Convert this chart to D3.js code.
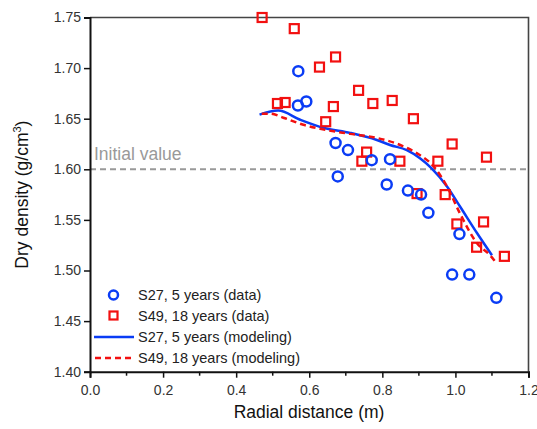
<!DOCTYPE html>
<html>
<head>
<meta charset="utf-8">
<script src="https://cdn.jsdelivr.net/npm/d3@7"></script>
<style>
  body { margin: 0; background: #fff; }
  svg { display: block; font-family: "Liberation Sans", Arial, sans-serif; }
</style>
</head>
<body>
<div id="chart"></div>
<script>
// data
const s27DataX = [0.570, 0.569, 0.592, 0.672, 0.706, 0.678, 0.771, 0.821, 0.812, 0.870, 0.906, 0.926, 1.011, 0.991, 1.038, 1.112];
const s27DataY = [1.697, 1.663, 1.667, 1.626, 1.619, 1.593, 1.609, 1.610, 1.585, 1.579, 1.575, 1.557, 1.536, 1.496, 1.496, 1.473];

const s49DataX = [0.471, 0.559, 0.628, 0.672, 0.513, 0.534, 0.666, 0.735, 0.774, 0.827, 0.645, 0.885, 0.991, 0.757, 0.744, 0.848, 0.952, 1.085, 0.895, 0.972, 1.004, 1.077, 1.058, 1.134];
const s49DataY = [1.750, 1.739, 1.701, 1.711, 1.665, 1.666, 1.662, 1.678, 1.665, 1.668, 1.647, 1.650, 1.625, 1.617, 1.608, 1.608, 1.608, 1.612, 1.576, 1.575, 1.546, 1.548, 1.523, 1.514];

const s27ModelX = [0.464, 0.515, 0.575, 0.639, 0.712, 0.785, 0.821, 0.867, 0.903, 0.935, 0.977, 1.013, 1.059, 1.100];
const s27ModelY = [1.654, 1.658, 1.649, 1.641, 1.636, 1.629, 1.624, 1.619, 1.611, 1.601, 1.583, 1.563, 1.537, 1.515];

const s49ModelX = [0.470, 0.493, 0.529, 0.584, 0.630, 0.712, 0.785, 0.849, 0.894, 0.940, 0.977, 1.013, 1.059, 1.095, 1.113];
const s49ModelY = [1.655, 1.655, 1.651, 1.644, 1.640, 1.635, 1.631, 1.624, 1.616, 1.603, 1.583, 1.556, 1.527, 1.515, 1.507];

const xTicks = [0.0, 0.2, 0.4, 0.6, 0.8, 1.0, 1.2];
const xMinorTicks = [0.1, 0.3, 0.5, 0.7, 0.9, 1.1];
const yTicks = [1.40, 1.45, 1.50, 1.55, 1.60, 1.65, 1.70, 1.75];
const initialValue = 1.60;

const legendLabels = ['S27, 5 years (data)', 'S49, 18 years (data)', 'S27, 5 years (modeling)', 'S49, 18 years (modeling)'];

const width = 537;
const height = 429;
const margin = { top: 17.5, right: 8.5, bottom: 57.3, left: 90 };
const blue = '#0a3cf5';
const red = '#f21010';

const svg = d3.select('#chart')
  .append('svg')
  .attr('width', width)
  .attr('height', height);

const xScale = d3.scaleLinear()
  .domain([0, 1.2])
  .range([margin.left, width - margin.right]);
const yScale = d3.scaleLinear()
  .domain([1.40, 1.75])
  .range([height - margin.bottom, margin.top]);

const x0 = xScale(0), x1 = xScale(1.2), y0 = yScale(1.40), y1 = yScale(1.75);

// top and right frame
svg.append('path')
  .attr('d', `M${x0},${y1}H${x1}V${y0}`)
  .attr('fill', 'none')
  .attr('stroke', '#444')
  .attr('stroke-width', 1.6);

// initial value
svg.append('line')
  .attr('x1', x0).attr('x2', x1)
  .attr('y1', yScale(initialValue)).attr('y2', yScale(initialValue))
  .attr('stroke', '#999')
  .attr('stroke-width', 2)
  .attr('stroke-dasharray', '6,4');
svg.append('text')
  .attr('x', x0 + 4)
  .attr('y', yScale(initialValue) - 9.5)
  .attr('font-size', 17.5)
  .attr('fill', '#999')
  .text('Initial value');

// axes
const xAxis = svg.append('g')
  .attr('class', 'x-axis-container')
  .attr('transform', `translate(0, ${y0})`)
  .call(d3.axisBottom(xScale).tickValues(xTicks).tickFormat(d3.format('.1f')).tickSizeOuter(0).tickSize(6).tickPadding(7));
xAxis.selectAll('.minor')
  .data(xMinorTicks)
  .join('line')
  .attr('class', 'minor')
  .attr('x1', d => xScale(d)).attr('x2', d => xScale(d))
  .attr('y1', 0).attr('y2', 4)
  .attr('stroke', '#111')
  .attr('stroke-width', 1.5);

const yAxis = svg.append('g')
  .attr('class', 'y-axis-container')
  .attr('transform', `translate(${x0}, 0)`)
  .call(d3.axisLeft(yScale).tickValues(yTicks).tickFormat(d3.format('.2f')).tickSizeOuter(0).tickSize(6).tickPadding(3));

[xAxis, yAxis].forEach(g => {
  g.select('.domain').attr('stroke', '#111').attr('stroke-width', 2);
  g.selectAll('.tick line').attr('stroke', '#111').attr('stroke-width', 1.5);
  g.selectAll('.tick text')
    .attr('font-size', 14)
    .attr('fill', '#333')
    .attr('font-family', '"Liberation Sans", Arial, sans-serif');
});

svg.append('text')
  .attr('x', 309)
  .attr('y', 418)
  .attr('text-anchor', 'middle')
  .attr('font-size', 17.5)
  .attr('fill', '#111')
  .text('Radial distance (m)');

const yTitle = svg.append('text')
  .attr('transform', `translate(28, ${(y0 + y1) / 2}) rotate(-90)`)
  .attr('text-anchor', 'middle')
  .attr('font-size', 17.5)
  .attr('fill', '#111');
yTitle.append('tspan').text('Dry density (g/cm');
yTitle.append('tspan').attr('font-size', 11).attr('dy', -7).text('3');
yTitle.append('tspan').attr('dy', 7).text(')');

// model curves
const line = d3.line()
  .x(d => xScale(d[0]))
  .y(d => yScale(d[1]))
  .curve(d3.curveMonotoneX);

svg.append('path')
  .datum(s27ModelX.map((x, i) => [x, s27ModelY[i]]))
  .attr('d', line)
  .attr('fill', 'none')
  .attr('stroke', blue)
  .attr('stroke-width', 2.5);

svg.append('path')
  .datum(s49ModelX.map((x, i) => [x, s49ModelY[i]]))
  .attr('d', line)
  .attr('fill', 'none')
  .attr('stroke', red)
  .attr('stroke-width', 2.5)
  .attr('stroke-dasharray', '6,4');

// data markers
svg.append('g')
  .selectAll('rect')
  .data(s49DataX.map((x, i) => [x, s49DataY[i]]))
  .join('rect')
  .attr('x', d => xScale(d[0]) - 4.5)
  .attr('y', d => yScale(d[1]) - 4.5)
  .attr('width', 9)
  .attr('height', 9)
  .attr('fill', 'none')
  .attr('stroke', red)
  .attr('stroke-width', 2.2);

svg.append('g')
  .selectAll('circle')
  .data(s27DataX.map((x, i) => [x, s27DataY[i]]))
  .join('circle')
  .attr('cx', d => xScale(d[0]))
  .attr('cy', d => yScale(d[1]))
  .attr('r', 5)
  .attr('fill', 'none')
  .attr('stroke', blue)
  .attr('stroke-width', 2.5);

// legend
const legend = svg.append('g').attr('class', 'legend');
const legendY = [295, 315.5, 337, 358];
legend.append('circle')
  .attr('cx', 113.5).attr('cy', legendY[0]).attr('r', 4.5)
  .attr('fill', 'none').attr('stroke', blue).attr('stroke-width', 2.5);
legend.append('rect')
  .attr('x', 109.5).attr('y', legendY[1] - 4).attr('width', 8).attr('height', 8)
  .attr('fill', 'none').attr('stroke', red).attr('stroke-width', 2.2);
legend.append('line')
  .attr('x1', 94).attr('x2', 134).attr('y1', legendY[2]).attr('y2', legendY[2])
  .attr('stroke', blue).attr('stroke-width', 2.5);
legend.append('line')
  .attr('x1', 95).attr('x2', 134).attr('y1', legendY[3]).attr('y2', legendY[3])
  .attr('stroke', red).attr('stroke-width', 2.5).attr('stroke-dasharray', '6,4');
legend.selectAll('text')
  .data(legendLabels)
  .join('text')
  .attr('x', 138)
  .attr('y', (d, i) => legendY[i] + 5)
  .attr('font-size', 14.5)
  .attr('fill', '#222')
  .text(d => d);
</script>
</body>
</html>
